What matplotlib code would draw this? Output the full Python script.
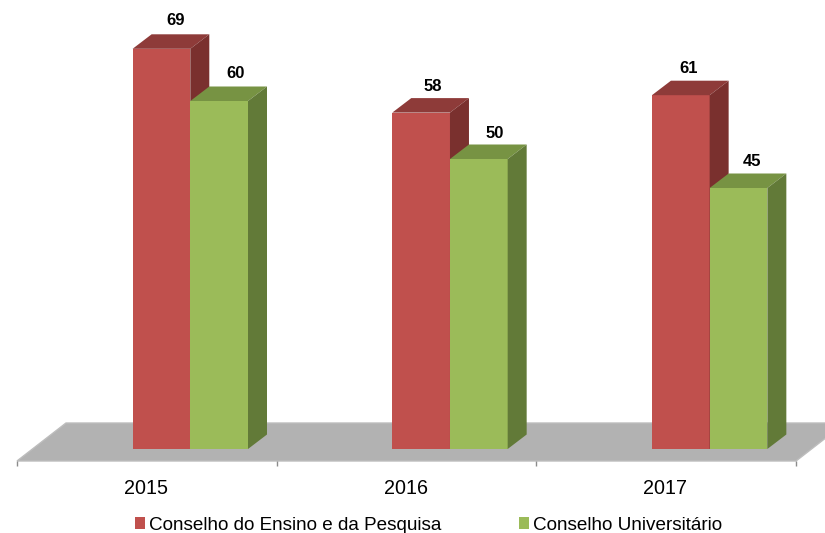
import numpy as np
import matplotlib
matplotlib.use("Agg")
import matplotlib.pyplot as plt
from matplotlib.patches import Polygon

plt.rcParams["font.family"] = ["Liberation Sans", "DejaVu Sans"]

years = ["2015", "2016", "2017"]
ensino = [69, 58, 61]
universitario = [60, 50, 45]
labels = ["Conselho do Ensino e da Pesquisa", "Conselho Universitário"]

# label nudges in pixels, they are not regular in the original
ensino_nudge = [(14, 28), (11.5, 26), (8, 27)]
universitario_nudge = [(16.5, 28), (16, 25), (14, 26)]

# pixels per unit, the whole figure is one axes
PX_X = 259.67
PX_Y = 5.8
X0 = 17
Y0 = 449
W, H = 825, 533


def dx(px):
    return px / PX_X


def dy(px):
    return px / PX_Y


fig = plt.figure(figsize=(W / 100, H / 100), dpi=100)
ax = fig.add_axes([0, 0, 1, 1])
ax.set_xlim(-X0 / PX_X, (W - X0) / PX_X)
ax.set_ylim((Y0 - H) / PX_Y, Y0 / PX_Y)
ax.axis("off")

# floor
floor_y = -dy(12)
floor_dx, floor_dy = dx(49), dy(38)
n = len(years)
ax.add_patch(Polygon([(0, floor_y), (n, floor_y),
                      (n + floor_dx, floor_y + floor_dy),
                      (floor_dx, floor_y + floor_dy)],
                     fc="#b2b2b2", ec="#bdbdbd", lw=1, zorder=1))
tick_x = np.arange(n + 1)
ax.vlines(tick_x, floor_y - dy(5), floor_y, color="#8c8c8c", lw=1, zorder=2)

bar_w = dx(57.7)
off = dx(115.6)
depth_x, depth_y = dx(19), dy(14.5)


def box(x, v, nudge, front, top, side, z):
    ax.bar(x, v, bar_w, align="edge", color=front, zorder=z)
    ax.add_patch(Polygon([(x, v), (x + bar_w, v),
                          (x + bar_w + depth_x, v + depth_y),
                          (x + depth_x, v + depth_y)], fc=top, ec="none", zorder=z))
    ax.add_patch(Polygon([(x + bar_w, 0), (x + bar_w + depth_x, depth_y),
                          (x + bar_w + depth_x, v + depth_y), (x + bar_w, v)],
                         fc=side, ec="none", zorder=z))
    ax.text(x + bar_w / 2 + dx(nudge[0]), v + dy(nudge[1]), str(v),
            ha="center", va="center", fontsize=12, fontweight="bold",
            color="black", zorder=z + 1)


for i in range(n):
    box(i + off, ensino[i], ensino_nudge[i], "#c0504d", "#8e3b39", "#7a302e", 3)
    box(i + off + bar_w, universitario[i], universitario_nudge[i],
        "#9bbb59", "#779343", "#627a38", 4)
    ax.text(i + 0.5 - dx(1), -dy(39), years[i], ha="center", va="center",
            fontsize=14.2, color="black")

handles = [plt.Rectangle((0, 0), 1, 1, fc="#c0504d"),
           plt.Rectangle((0, 0), 1, 1, fc="#9bbb59")]
ax.legend(handles, labels, ncol=2, frameon=False, fontsize=13.55,
          loc="center", bbox_to_anchor=(428.5 / W, 1 - 525 / H),
          handlelength=0.55, handleheight=0.55, handletextpad=0.2,
          columnspacing=4.1, borderpad=0, borderaxespad=0)

fig.savefig("out.png", dpi=100)
